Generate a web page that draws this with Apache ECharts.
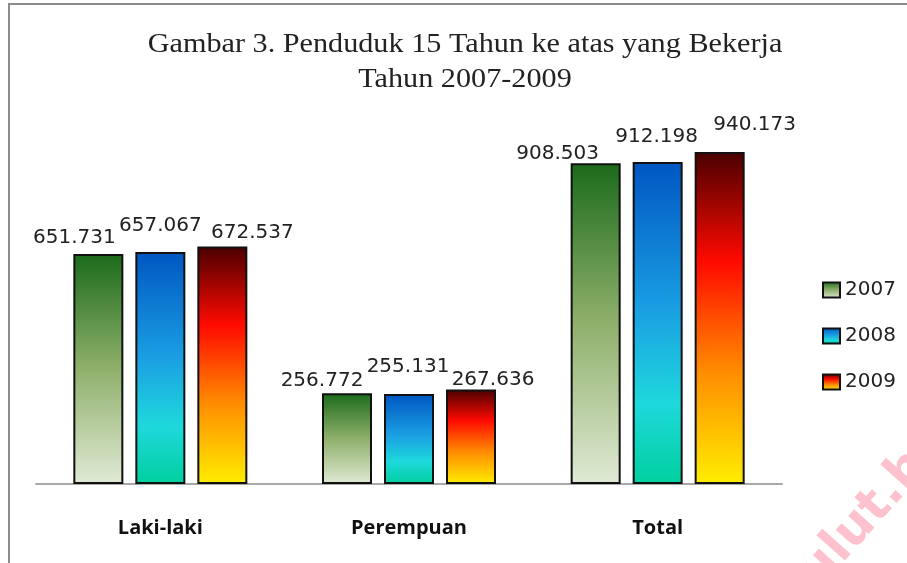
<!DOCTYPE html>
<html>
<head>
<meta charset="utf-8">
<script src="https://cdn.jsdelivr.net/npm/echarts@6/dist/echarts.min.js"></script>
<style>
  html, body { margin: 0; padding: 0; background: #fff; }
  #main { width: 907px; height: 563px; }
</style>
</head>
<body>
<div id="main"></div>
<script>
// data
var titleLines = ['Gambar 3. Penduduk 15 Tahun ke atas yang Bekerja', 'Tahun 2007-2009'];
var categories = ['Laki-laki', 'Perempuan', 'Total'];
var years = ['2007', '2008', '2009'];
var values2007 = [651.731, 256.772, 908.503];
var values2008 = [657.067, 255.131, 912.198];
var values2009 = [672.537, 267.636, 940.173];

// label placement like in the original (labels sit askew per bar)
var labelShift = [
    [[-24, -6], [-25, -3], [-38, 0]],
    [[0, -16], [-1, -17], [-1, -15]],
    [[30, -4], [22, 0], [35, -17]]
];

var gradients = [
    [[0, '#1b6b1b'], [0.5, '#8fb06b'], [1, '#e0ead5']],
    [[0, '#0056c2'], [0.45, '#1a9ee2'], [0.75, '#1ed8dc'], [1, '#00d09e']],
    [[0, '#4a0000'], [0.33, '#ff0a00'], [0.66, '#ff8c00'], [1, '#ffee00']]
];

function fmt(v) {
    return v.toFixed(3);
}

function grad(stops) {
    return new echarts.graphic.LinearGradient(0, 0, 0, 1, stops.map(function (s) {
        return { offset: s[0], color: s[1] };
    }));
}

var allValues = [values2007, values2008, values2009];

var series = years.map(function (y, i) {
    return {
        name: y,
        type: 'bar',
        barWidth: 50,
        barGap: '24%',
        data: allValues[i].map(function (v, j) {
            return {
                value: v,
                label: { offset: labelShift[i][j] }
            };
        }),
        itemStyle: {
            color: grad(gradients[i]),
            borderColor: '#111',
            borderWidth: 2
        },
        label: {
            show: true,
            position: 'top',
            distance: 0,
            fontFamily: 'DejaVu Sans',
            fontSize: 20,
            color: '#222',
            formatter: function (p) { return fmt(p.value); }
        }
    };
});

// title is drawn a bit stretched sideways, as in the picture
var titleGraphics = titleLines.map(function (t, i) {
    return {
        type: 'text',
        x: 465,
        y: 45 + i * 35,
        scaleX: 1.14,
        style: {
            text: t,
            textAlign: 'center',
            textVerticalAlign: 'middle',
            fontFamily: 'Liberation Serif',
            fontSize: 26.5,
            fill: '#222'
        },
        silent: true
    };
});

var chart = echarts.init(document.getElementById('main'));
chart.setOption({
    animation: false,
    legend: {
        orient: 'vertical',
        left: 817,
        top: 275,
        icon: 'rect',
        itemWidth: 17,
        itemHeight: 15,
        itemGap: 26,
        textStyle: {
            fontFamily: 'DejaVu Sans',
            fontSize: 20,
            color: '#222'
        },
        data: years
    },
    grid: {
        left: 36,
        right: 125,
        top: 131,
        bottom: 79
    },
    xAxis: {
        type: 'category',
        data: categories,
        axisLine: { lineStyle: { color: '#a8a8a8', width: 2 } },
        axisTick: { show: false },
        axisLabel: {
            margin: 34,
            fontFamily: 'Open Sans',
            fontWeight: 'bold',
            fontSize: 20,
            color: '#111'
        }
    },
    yAxis: {
        type: 'value',
        min: 0,
        max: 1000,
        show: false,
        splitLine: { show: false }
    },
    graphic: titleGraphics.concat([
        {
            type: 'rect',
            shape: { x: 9, y: 4, width: 1200, height: 1200 },
            style: { fill: 'none', stroke: '#8c8c8c', lineWidth: 2 },
            silent: true
        },
        {
            type: 'text',
            x: 790,
            y: 565,
            rotation: 0.84,
            style: {
                text: 'ulut.b',
                fontFamily: 'DejaVu Sans',
                fontWeight: 'bold',
                fontSize: 50,
                fill: 'rgba(250,110,135,0.42)'
            },
            silent: true
        }
    ]),
    series: series
});
</script>
</body>
</html>
